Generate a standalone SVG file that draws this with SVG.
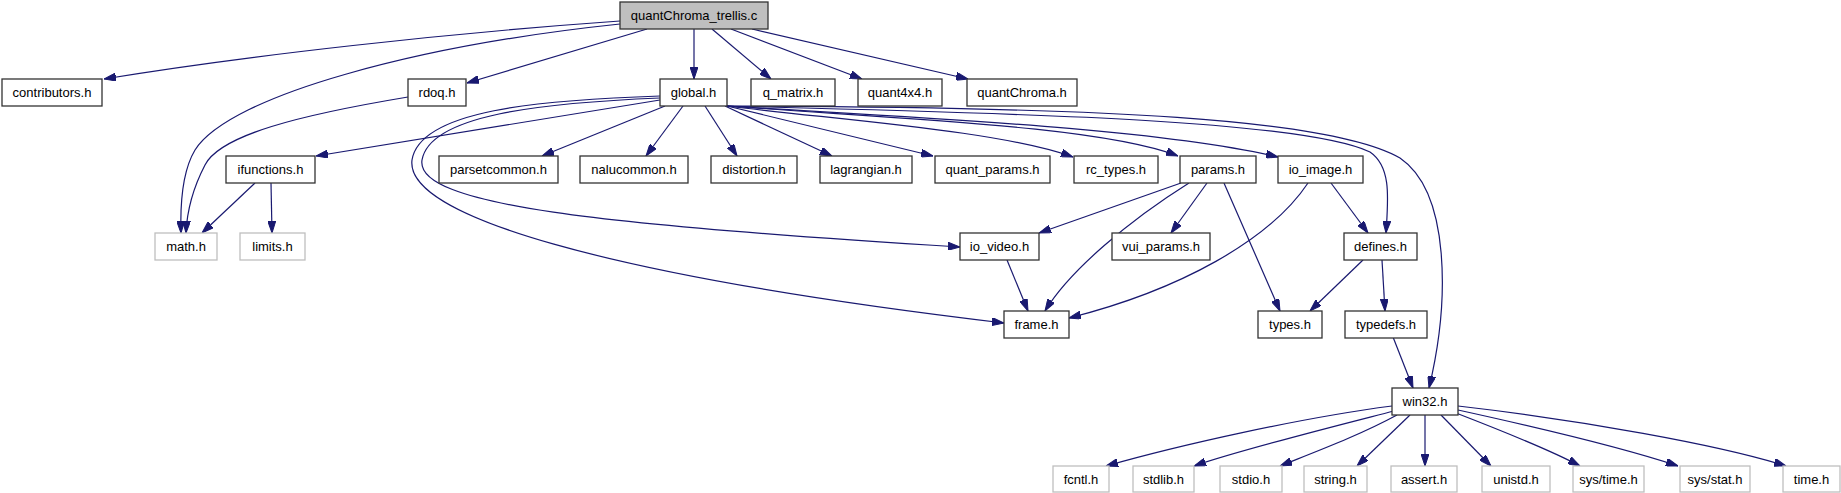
<svg xmlns="http://www.w3.org/2000/svg" width="1841" height="493" viewBox="0 0 1841 493">
<style>
.n rect{fill:#fff;stroke:#333;stroke-width:1.3}
.n.root rect{fill:#bfbfbf}
.n.ext rect{stroke:#bfbfbf}
.n text{font-family:"Liberation Sans",Arial,sans-serif;font-size:13px;fill:#000;text-anchor:middle}
#edges path{fill:none;stroke:#191970;stroke-width:1.2;marker-end:url(#arr)}
</style>
<defs>
<marker id="arr" viewBox="0 0 12 8" refX="12" refY="4" markerWidth="12" markerHeight="8" markerUnits="userSpaceOnUse" orient="auto">
<path d="M0,0 L12,4 L0,8 z" fill="#191970" stroke="#191970"/>
</marker>
</defs>
<rect width="1841" height="493" fill="#fff"/>
<g id="edges">
<path d="M620,21 C450,33 250,55 104,79"/>
<path d="M620,24 C420,45 230,95 195,150 C183,170 180,200 181,233"/>
<path d="M647,29 L467,83"/>
<path d="M694,29 L694,79"/>
<path d="M712,29 L771,79"/>
<path d="M731,29 L862,79"/>
<path d="M752,29 L968,79"/>
<path d="M408,97 C300,115 220,135 205,165 C192,190 187,210 186,233"/>
<path d="M660,100 L316,156"/>
<path d="M660,96 C540,100 420,110 412,160 C405,215 600,275 1004,323"/>
<path d="M660,98 C540,103 430,115 422,160 C415,205 600,225 960,247"/>
<path d="M665,106 L542,156"/>
<path d="M683,106 L646,156"/>
<path d="M705,106 L737,156"/>
<path d="M725,106 L832,156"/>
<path d="M727,106 L933,156"/>
<path d="M727,106 C850,121 1000,131 1073,157"/>
<path d="M727,106 C900,119 1100,126 1178,156"/>
<path d="M727,106 C900,117 1150,127 1278,157"/>
<path d="M727,106 C1000,113 1300,119 1370,152 C1392,167 1388,200 1386,233"/>
<path d="M727,106 C1100,107 1330,118 1400,158 C1450,192 1450,300 1429,388"/>
<path d="M1181,183 L1039,233"/>
<path d="M1189,183 C1130,220 1070,270 1045,311"/>
<path d="M1207,183 L1171,233"/>
<path d="M1224,183 L1280,311"/>
<path d="M1308,183 C1270,240 1180,290 1069,318"/>
<path d="M1331,183 L1368,233"/>
<path d="M1007,260 L1028,311"/>
<path d="M1363,260 L1310,311"/>
<path d="M1382,260 L1385,311"/>
<path d="M1393,337 L1413,388"/>
<path d="M255,183 L202,233"/>
<path d="M271,183 L272,233"/>
<path d="M1392,406 C1300,418 1180,445 1106,466"/>
<path d="M1394,411 C1320,430 1240,450 1194,466"/>
<path d="M1397,415 C1360,435 1320,450 1280,466"/>
<path d="M1410,415 L1357,466"/>
<path d="M1425,415 L1425,466"/>
<path d="M1441,415 L1491,466"/>
<path d="M1456,413 C1500,430 1550,450 1580,466"/>
<path d="M1458,410 C1540,428 1630,450 1678,466"/>
<path d="M1458,406 C1580,420 1720,445 1786,466"/>
</g>
<g id="node-root" class="n root"><rect x="620" y="2" width="148" height="27"/><text x="694" y="20">quantChroma_trellis.c</text></g>
<g id="node-contributors" class="n"><rect x="2" y="79" width="100" height="27"/><text x="52" y="97">contributors.h</text></g>
<g id="node-rdoq" class="n"><rect x="408" y="79" width="58" height="27"/><text x="437" y="97">rdoq.h</text></g>
<g id="node-global" class="n"><rect x="660" y="79" width="67" height="27"/><text x="693.5" y="97">global.h</text></g>
<g id="node-q_matrix" class="n"><rect x="751" y="79" width="84" height="27"/><text x="793" y="97">q_matrix.h</text></g>
<g id="node-quant4x4" class="n"><rect x="858" y="79" width="84" height="27"/><text x="900" y="97">quant4x4.h</text></g>
<g id="node-quantChroma" class="n"><rect x="967" y="79" width="110" height="27"/><text x="1022" y="97">quantChroma.h</text></g>
<g id="node-ifunctions" class="n"><rect x="226" y="156" width="89" height="27"/><text x="270.5" y="174">ifunctions.h</text></g>
<g id="node-parsetcommon" class="n"><rect x="439" y="156" width="119" height="27"/><text x="498.5" y="174">parsetcommon.h</text></g>
<g id="node-nalucommon" class="n"><rect x="580" y="156" width="108" height="27"/><text x="634" y="174">nalucommon.h</text></g>
<g id="node-distortion" class="n"><rect x="711" y="156" width="86" height="27"/><text x="754" y="174">distortion.h</text></g>
<g id="node-lagrangian" class="n"><rect x="820" y="156" width="92" height="27"/><text x="866" y="174">lagrangian.h</text></g>
<g id="node-quant_params" class="n"><rect x="935" y="156" width="115" height="27"/><text x="992.5" y="174">quant_params.h</text></g>
<g id="node-rc_types" class="n"><rect x="1074" y="156" width="84" height="27"/><text x="1116" y="174">rc_types.h</text></g>
<g id="node-params" class="n"><rect x="1180" y="156" width="76" height="27"/><text x="1218" y="174">params.h</text></g>
<g id="node-io_image" class="n"><rect x="1278" y="156" width="85" height="27"/><text x="1320.5" y="174">io_image.h</text></g>
<g id="node-math" class="n ext"><rect x="155" y="233" width="62" height="27"/><text x="186" y="251">math.h</text></g>
<g id="node-limits" class="n ext"><rect x="240" y="233" width="65" height="27"/><text x="272.5" y="251">limits.h</text></g>
<g id="node-io_video" class="n"><rect x="960" y="233" width="79" height="27"/><text x="999.5" y="251">io_video.h</text></g>
<g id="node-vui_params" class="n"><rect x="1112" y="233" width="98" height="27"/><text x="1161" y="251">vui_params.h</text></g>
<g id="node-defines" class="n"><rect x="1344" y="233" width="73" height="27"/><text x="1380.5" y="251">defines.h</text></g>
<g id="node-frame" class="n"><rect x="1004" y="311" width="65" height="27"/><text x="1036.5" y="329">frame.h</text></g>
<g id="node-types" class="n"><rect x="1258" y="311" width="64" height="27"/><text x="1290" y="329">types.h</text></g>
<g id="node-typedefs" class="n"><rect x="1345" y="311" width="82" height="27"/><text x="1386" y="329">typedefs.h</text></g>
<g id="node-win32" class="n"><rect x="1392" y="388" width="66" height="27"/><text x="1425" y="406">win32.h</text></g>
<g id="node-fcntl" class="n ext"><rect x="1053" y="466" width="56" height="26"/><text x="1081" y="484">fcntl.h</text></g>
<g id="node-stdlib" class="n ext"><rect x="1133" y="466" width="61" height="26"/><text x="1163.5" y="484">stdlib.h</text></g>
<g id="node-stdio" class="n ext"><rect x="1220" y="466" width="62" height="26"/><text x="1251" y="484">stdio.h</text></g>
<g id="node-string" class="n ext"><rect x="1304" y="466" width="63" height="26"/><text x="1335.5" y="484">string.h</text></g>
<g id="node-assert" class="n ext"><rect x="1391" y="466" width="66" height="26"/><text x="1424" y="484">assert.h</text></g>
<g id="node-unistd" class="n ext"><rect x="1482" y="466" width="68" height="26"/><text x="1516" y="484">unistd.h</text></g>
<g id="node-systime" class="n ext"><rect x="1573" y="466" width="71" height="26"/><text x="1608.5" y="484">sys/time.h</text></g>
<g id="node-sysstat" class="n ext"><rect x="1680" y="466" width="70" height="26"/><text x="1715" y="484">sys/stat.h</text></g>
<g id="node-time" class="n ext"><rect x="1783" y="466" width="57" height="26"/><text x="1811.5" y="484">time.h</text></g>
</svg>
